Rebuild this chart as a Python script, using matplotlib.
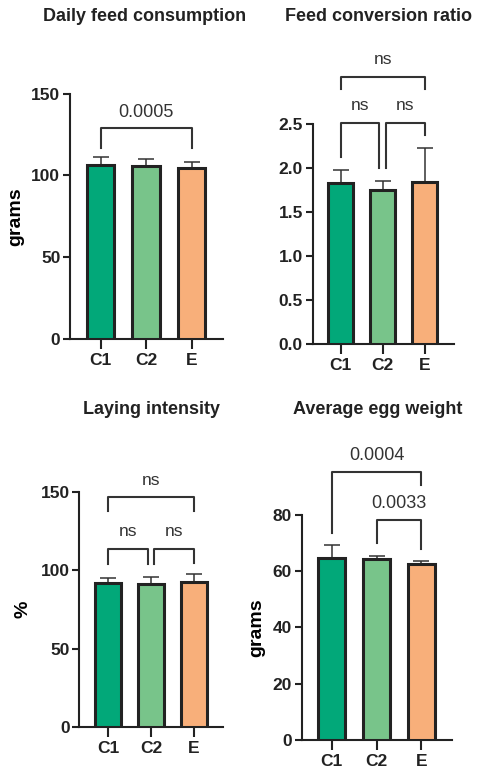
import numpy as np
import matplotlib.pyplot as plt

plt.rcParams['font.family'] = ['Liberation Sans', 'DejaVu Sans']

# Data
groups = ["C1", "C2", "E"]
colors = ["#02A879", "#78C48A", "#F8AF7A"]

titles = ["Daily feed consumption", "Feed conversion ratio",
          "Laying intensity", "Average egg weight"]
ylabels = ["grams", "", "%", "grams"]

feed_mean = [106.5, 106.0, 104.8]
feed_sd = [4.5, 3.8, 3.7]
fcr_mean = [1.83, 1.75, 1.84]
fcr_sd = [0.15, 0.10, 0.38]
laying_mean = [91.8, 91.1, 92.6]
laying_sd = [3.6, 4.5, 4.9]
egg_mean = [64.6, 64.2, 62.6]
egg_sd = [4.5, 1.3, 0.8]

means = [feed_mean, fcr_mean, laying_mean, egg_mean]
sds = [feed_sd, fcr_sd, laying_sd, egg_sd]
ylims = [150, 2.5, 150, 80]
yticks = [[0, 50, 100, 150],
          [0.0, 0.5, 1.0, 1.5, 2.0, 2.5],
          [0, 50, 100, 150],
          [0, 20, 40, 60, 80]]
ytick_fmt = ["{:.0f}", "{:.1f}", "{:.0f}", "{:.0f}"]

# comparisons: (i, j, bar height, leg end i, leg end j, label, label y)
feed_cmp = [(0, 2, 129, 117, 117, "0.0005", 133)]
fcr_cmp = [(0, 1, 2.51, 2.12, 2.00, "ns", 2.62),
           (1, 2, 2.51, 2.00, 2.37, "ns", 2.62),
           (0, 2, 3.03, 2.89, 2.89, "ns", 3.14)]
laying_cmp = [(0, 1, 114, 104, 104, "ns", 120),
              (1, 2, 114, 104, 105, "ns", 120),
              (0, 2, 147, 138, 138, "ns", 153)]
egg_cmp = [(1, 2, 78.2, 69.9, 67.8, "0.0033", 81),
           (0, 2, 95.4, 73.5, 90.7, "0.0004", 98)]
comparisons = [feed_cmp, fcr_cmp, laying_cmp, egg_cmp]

# axes rectangles in figure fraction
rects = [[0.143, 0.561, 0.312, 0.318],
         [0.638, 0.555, 0.288, 0.285],
         [0.162, 0.060, 0.294, 0.303],
         [0.616, 0.043, 0.307, 0.291]]
title_pos = [(0.296, 0.979), (0.772, 0.979), (0.310, 0.470), (0.770, 0.470)]
ylabel_x = [-0.30, 0, -0.33, -0.24]

fig = plt.figure(figsize=(4.9, 7.73), dpi=100)
x = np.arange(len(groups))

for k in range(4):
    ax = fig.add_axes(rects[k])
    ax.bar(x, means[k], width=0.6, color=colors, edgecolor="#222222",
           linewidth=2.2, zorder=3)
    ax.errorbar(x, means[k], yerr=[np.zeros(3), sds[k]], fmt="none",
                ecolor="#333333", elinewidth=1.1, capsize=6, capthick=1.1,
                zorder=2)
    ax.set_xlim(-0.67, 2.69)
    ax.set_ylim(0, ylims[k])
    ax.set_xticks(x)
    ax.set_xticklabels(groups, fontweight="bold", fontsize=12.5)
    ax.set_yticks(yticks[k])
    ax.set_yticklabels([ytick_fmt[k].format(v) for v in yticks[k]],
                       fontweight="bold", fontsize=12.5)
    ax.tick_params(axis="y", length=5, width=1.5, pad=2, colors="#222222")
    ax.tick_params(axis="x", length=7, width=1.5, pad=3, colors="#222222")
    for s in ["top", "right"]:
        ax.spines[s].set_visible(False)
    for s in ["left", "bottom"]:
        ax.spines[s].set_linewidth(1.5)
        ax.spines[s].set_color("#222222")
    if ylabels[k]:
        ax.set_ylabel(ylabels[k], fontweight="bold", fontsize=14)
        ax.yaxis.set_label_coords(ylabel_x[k], 0.5)

    # significance brackets
    for (i, j, yb, yi, yj, lab, yt) in comparisons[k]:
        xi, xj = float(i), float(j)
        if len(comparisons[k]) == 3 and j - i == 1:
            if j == 1:
                xj -= 0.08
            if i == 1:
                xi += 0.08
        ax.plot([xi, xi, xj, xj], [yi, yb, yb, yj], color="#333333",
                lw=1.5, clip_on=False, zorder=4)
        ax.text((xi + xj) / 2, yt, lab, ha="center", va="bottom",
                fontsize=13 if lab != "ns" else 12.5, color="#333333",
                clip_on=False)

    fig.text(title_pos[k][0], title_pos[k][1], titles[k], ha="center",
             va="center", fontweight="bold", fontsize=13, color="#222222")

fig.savefig("out.png", dpi=100)
